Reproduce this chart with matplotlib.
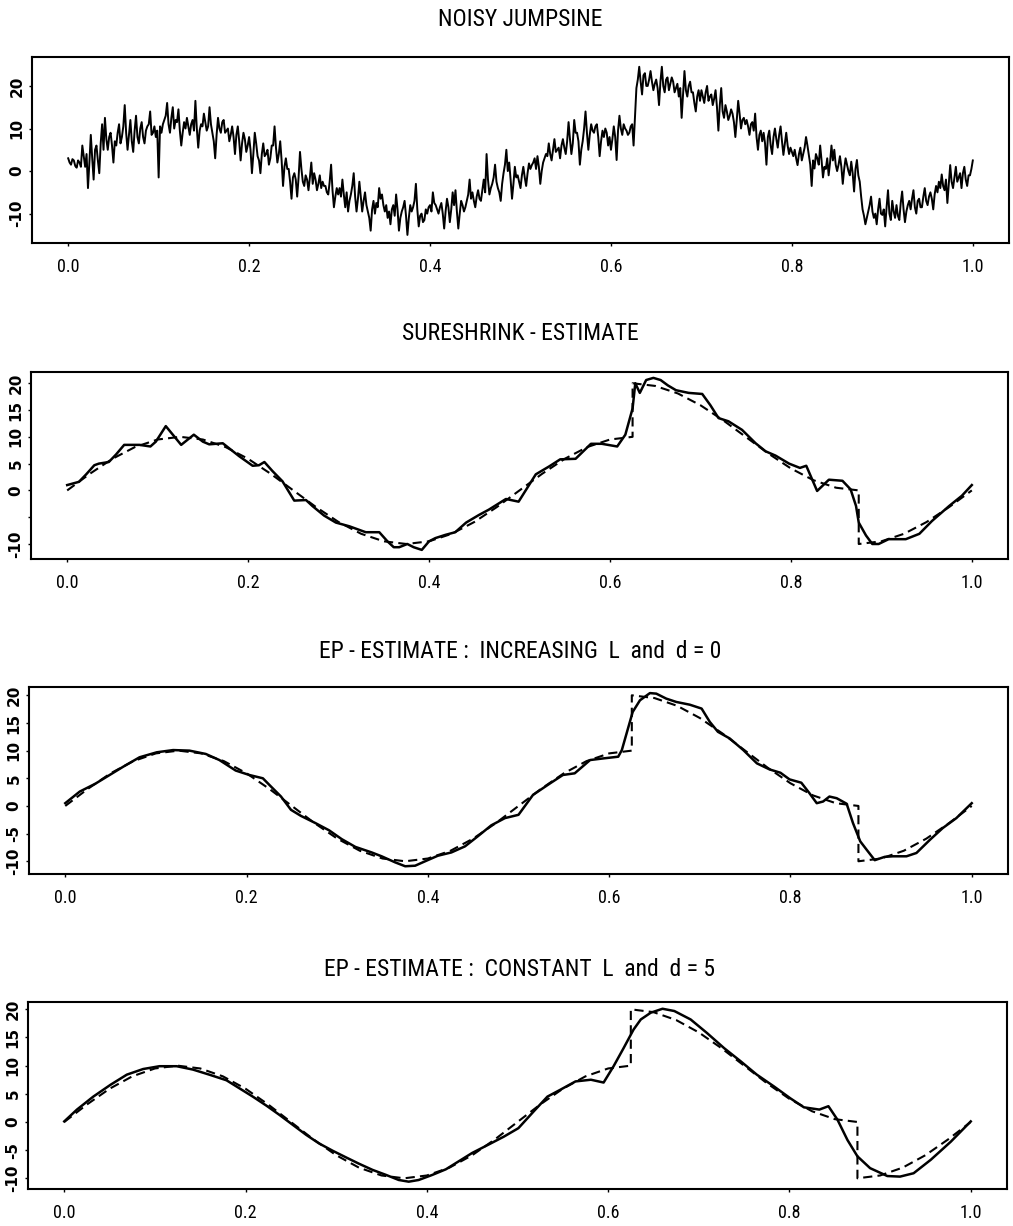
import numpy as np
import matplotlib.pyplot as plt

# ------------------------------------------------------------------
# datos
# ------------------------------------------------------------------

# funcion verdadera (linea discontinua), con los dos saltos
t_true = [0.0, 0.025, 0.05, 0.075, 0.1, 0.125, 0.15, 0.175, 0.2, 0.225,
          0.25, 0.275, 0.3, 0.325, 0.35, 0.375, 0.4, 0.425, 0.45, 0.475,
          0.5, 0.525, 0.55, 0.575, 0.6, 0.625, 0.625, 0.65, 0.675, 0.7,
          0.725, 0.75, 0.775, 0.8, 0.825, 0.85, 0.875, 0.875, 0.9, 0.925,
          0.95, 0.975, 1.0]
y_true = [0.0, 3.1, 5.9, 8.1, 9.5, 10.0, 9.5, 8.1, 5.9, 3.1,
          0.0, -3.1, -5.9, -8.1, -9.5, -10.0, -9.5, -8.1, -5.9, -3.1,
          0.0, 3.1, 5.9, 8.1, 9.5, 10.0, 20.0, 19.5, 18.1, 15.9,
          13.1, 10.0, 6.9, 4.1, 1.9, 0.5, 0.0, -10.0, -9.5, -8.1,
          -5.9, -3.1, 0.0]

# serie ruidosa: muestras en k/320 (aprox.)
noisy_y = [
    3.0, 1.5, 2.5, 0.8, 2.0, 6.0, 1.0, -4.0, 8.5, -2.0, 6.0, -0.5, 11.0, 12.5, 5.0, 9.0,
    2.0, 6.0, 11.0, 8.0, 15.5, 5.0, 12.0, 4.5, 13.0, 6.5, 11.5, 6.5, 10.5, 14.0, 9.0, 8.0,
    -1.5, 9.0, 12.0, 16.0, 9.0, 15.0, 12.0, 14.5, 6.0, 11.5, 12.5, 8.5, 12.0, 16.5, 5.5, 11.0,
    13.5, 9.5, 15.0, 9.0, 3.0, 12.5, 9.0, 12.0, 9.5, 7.0, 10.5, 4.0, 10.5, 2.5, 9.0, 4.5,
    8.0, -0.5, 9.0, 3.5, -0.5, 6.5, 4.0, 1.5, 6.0, 10.5, 2.0, 7.0, -3.5, 3.0, 0.5, -6.5,
    -0.5, -6.0, 4.5, -2.5, -1.0, -4.5, 2.0, -0.5, -4.5, -1.0, -2.5, -3.5, -5.5, 1.5, -8.5, -4.0,
    -4.0, -2.0, -8.5, -9.5, -5.5, -0.5, -9.5, -2.5, -9.5, -5.0, -9.5, -14.0, -7.0, -7.5, -4.0, -5.5,
    -9.5, -11.0, -12.5, -8.0, -5.5, -14.0, -9.5, -7.0, -15.0, -8.0, -8.5, -3.0, -13.0, -10.0, -11.5, -10.0,
    -8.0, -5.0, -8.0, -10.0, -7.5, -13.5, -6.5, -12.0, -5.0, -4.5, -13.5, -7.0, -9.5, -7.0, -2.0, -5.0,
    -8.5, -4.5, -7.0, -2.0, 4.0, -5.5, -3.0, 1.5, -4.0, -7.0, -0.5, 5.0, 2.0, -6.5, 1.0, -1.0,
    -4.0, 1.0, -3.5, 1.8, 1.4, 3.0, 3.5, -3.0, 2.0, 4.0, 6.5, 2.5, 7.5, 5.0, 3.0, 7.5,
    4.0, 11.5, 4.0, 12.0, 9.0, 1.5, 7.0, 14.0, 5.0, 11.0, 9.0, 11.0, 3.5, 9.5, 10.0, 6.0,
    5.0, 10.5, 2.6, 13.0, 8.5, 10.0, 8.5, 10.5, 6.0, 19.5, 24.5, 18.0, 23.0, 20.0, 23.5, 19.0,
    21.5, 15.5, 24.5, 18.5, 22.0, 20.5, 21.0, 19.5, 17.5, 12.5, 23.5, 17.5, 21.0, 18.5, 14.0, 19.0,
    19.0, 16.0, 20.0, 17.5, 15.5, 19.0, 9.5, 19.5, 12.5, 14.0, 13.0, 13.5, 8.0, 16.5, 10.0, 12.5,
    12.0, 8.5, 11.5, 13.5, 5.0, 9.5, 9.0, 1.5, 9.5, 4.0, 10.0, 5.5, 10.5, 3.8, 9.0, 4.0,
    4.5, 5.0, 1.4, 5.5, 4.0, 8.0, 3.8, -3.5, 0.6, 3.0, 6.0, -1.5, 0.5, -1.0, 6.0, 5.0,
    0.0, 3.5, -3.0, 3.0, 0.0, 2.2, -4.8, 2.6, -2.5, -9.0, -12.5, -9.5, -6.0, -11.0, -12.5, -6.5,
    -10.3, -13.0, -4.5, -11.5, -9.5, -8.0, -11.5, -4.8, -12.0, -8.0, -9.0, -4.5, -10.0, -6.5, -8.5, -4.0,
    -8.0, -5.0, -9.0, -3.5, -2.5, -0.8, -4.5, -7.5, 1.4, -4.0, 1.0, -1.5, -4.0, 1.0, -3.5, -1.0, 2.5,
]
# muestras intermedias en (k + 0.5)/320, estimadas de la banda
noisy_mid = [
    2.0, 2.8, 1.2, 2.5, 1.0, 3.5, 4.0, 2.0, 3.0, 5.0, 2.5, 6.5, 5.0, 7.5, 8.0, 6.0,
    7.0, 9.0, 6.5, 10.5, 9.0, 8.5, 7.0, 9.5, 8.0, 10.0, 8.0, 9.5, 11.0, 8.5, 10.5, 9.5,
    10.5, 11.0, 13.0, 11.0, 12.5, 10.0, 11.5, 9.5, 9.0, 10.0, 10.5, 11.0, 9.5, 10.0, 9.5, 10.5,
    11.5, 10.5, 11.0, 7.0, 8.5, 10.0, 11.5, 9.0, 10.0, 8.5, 8.0, 8.5, 7.0, 6.5, 7.5, 6.0,
    5.0, 4.0, 6.5, 2.5, 4.0, 3.5, 5.0, 3.0, 6.0, 5.5, 4.0, 2.5, 1.0, 0.5, -2.5, -1.5,
    -2.0, -1.5, 0.5, -3.5, -2.0, -1.5, -3.0, -2.0, -3.0, -4.0, -3.5, -5.0, -2.5, -4.5, -6.0, -5.5,
    -6.0, -5.5, -5.0, -7.0, -3.5, -6.0, -6.5, -6.0, -7.0, -8.0, -11.0, -9.0, -10.0, -8.5, -6.5, -8.0,
    -8.0, -9.5, -9.0, -10.5, -9.0, -11.0, -8.5, -10.5, -11.0, -9.5, -7.0, -9.0, -10.5, -12.0, -9.0, -8.5,
    -9.5, -7.5, -9.0, -8.5, -10.0, -9.5, -8.5, -9.0, -8.0, -9.5, -10.0, -8.0, -8.5, -5.5, -6.5, -7.0,
    -6.0, -6.5, -4.5, -5.0, -2.0, -4.0, -1.5, -2.5, -5.0, -3.0, 1.5, 0.0, -2.0, -3.0, -1.5, -2.5,
    -1.0, -1.5, -0.5, 0.5, 2.0, 0.5, 1.0, 0.0, 3.0, 3.5, 4.0, 5.0, 4.5, 5.5, 6.0, 5.5,
    7.0, 7.5, 6.5, 9.0, 7.0, 5.0, 10.0, 9.0, 8.5, 9.5, 10.5, 8.0, 7.0, 8.0, 9.0, 8.0,
    7.5, 8.0, 9.5, 10.0, 11.0, 9.5, 9.0, 11.0, 12.5, 21.5, 21.0, 22.5, 20.0, 21.5, 21.0, 20.5,
    19.5, 21.0, 20.0, 21.5, 19.0, 22.0, 18.5, 20.5, 19.5, 18.0, 19.0, 20.0, 18.5, 16.0, 17.5, 16.5,
    17.5, 18.5, 16.5, 18.0, 17.0, 15.0, 15.5, 14.0, 15.5, 12.0, 14.5, 11.5, 12.0, 13.5, 12.0, 11.0,
    10.5, 11.0, 9.5, 8.0, 8.5, 7.0, 6.5, 8.0, 6.0, 8.0, 7.5, 8.5, 7.0, 6.5, 6.0, 5.5,
    3.5, 3.0, 4.0, 2.5, 5.5, 6.0, 1.5, 2.5, 4.0, 1.5, 2.5, 1.0, 3.0, 2.0, 2.5, 1.5,
    1.5, 1.0, 0.5, 1.5, -1.0, -0.5, 0.5, -1.0, -6.0, -10.5, -11.0, -8.0, -9.5, -10.0, -9.0, -10.0,
    -9.0, -8.5, -10.0, -7.0, -11.0, -10.5, -7.5, -9.0, -9.5, -7.0, -6.5, -8.5, -7.0, -8.5, -6.0, -7.0,
    -6.0, -6.5, -5.5, -5.0, -4.0, -3.5, -2.0, -3.0, -2.5, -1.5, -2.5, -0.5, -0.5, -2.0, -1.0, 0.5,
]

# estimador SureShrink
sure_t = [0.0, 0.013, 0.021, 0.030, 0.035, 0.046, 0.054, 0.063, 0.080, 0.092,
          0.098, 0.109, 0.126, 0.140, 0.150, 0.157, 0.172, 0.190, 0.205, 0.212,
          0.218, 0.227, 0.238, 0.251, 0.264, 0.271, 0.284, 0.297, 0.312, 0.330,
          0.345, 0.354, 0.361, 0.367, 0.376, 0.383, 0.392, 0.400, 0.407, 0.418,
          0.429, 0.441, 0.455, 0.466, 0.485, 0.499, 0.518, 0.533, 0.545, 0.562,
          0.579, 0.591, 0.608, 0.617, 0.625, 0.628, 0.633, 0.640, 0.648,
          0.656, 0.664, 0.673, 0.687, 0.702, 0.711, 0.720, 0.731, 0.746, 0.761,
          0.772, 0.783, 0.798, 0.810, 0.817, 0.829, 0.842, 0.857, 0.866, 0.872,
          0.875, 0.883, 0.890, 0.897, 0.908, 0.927, 0.942, 0.956, 0.975, 0.989,
          1.0]
sure_y = [1.0, 1.6, 3.0, 4.7, 5.0, 5.3, 6.7, 8.5, 8.5, 8.2,
          9.1, 12.0, 8.5, 10.4, 9.1, 8.6, 8.8, 6.4, 4.6, 4.7,
          5.3, 3.6, 1.7, -1.9, -1.8, -2.9, -4.7, -6.0, -6.7, -7.8,
          -7.8, -9.5, -10.6, -10.6, -10.0, -10.6, -11.1, -9.5, -8.9, -8.3,
          -7.8, -6.0, -4.6, -3.6, -1.6, -2.1, 3.0, 4.5, 5.8, 5.9,
          8.7, 8.7, 8.2, 10.4, 15.3, 20.0, 18.2, 20.6, 21.0,
          20.6, 19.6, 18.7, 18.2, 18.0, 15.9, 13.5, 12.9, 11.3, 8.8,
          7.3, 6.5, 5.0, 4.2, 4.6, -0.1, 2.0, 1.8, 0.2, -2.9,
          -6.0, -8.4, -10.0, -10.0, -9.1, -9.1, -8.1, -5.7, -2.9, -1.0,
          1.0]

# estimador EP, L creciente y d = 0
ep1_t = [0.0, 0.016, 0.033, 0.049, 0.064, 0.082, 0.101, 0.119, 0.137, 0.155,
         0.170, 0.188, 0.203, 0.218, 0.227, 0.238, 0.249, 0.260, 0.276, 0.291,
         0.305, 0.320, 0.338, 0.349, 0.364, 0.375, 0.386, 0.397, 0.411, 0.426,
         0.441, 0.455, 0.470, 0.485, 0.500, 0.516, 0.535, 0.549, 0.562, 0.579,
         0.594, 0.610, 0.614, 0.626, 0.634, 0.645, 0.652, 0.663, 0.674, 0.689,
         0.702, 0.711, 0.720, 0.733, 0.748, 0.763, 0.777, 0.789, 0.799, 0.812,
         0.821, 0.829, 0.836, 0.843, 0.851, 0.862, 0.869, 0.877, 0.884, 0.893,
         0.904, 0.913, 0.928, 0.939, 0.954, 0.968, 0.983, 1.0]
ep1_y = [0.5, 2.6, 4.0, 5.6, 7.1, 8.8, 9.7, 10.1, 10.0, 9.4,
         8.3, 6.4, 5.6, 5.0, 3.5, 1.7, -0.7, -1.8, -3.1, -4.4,
         -6.0, -7.4, -8.4, -9.1, -10.2, -10.9, -10.8, -10.0, -9.0, -8.4,
         -7.3, -5.5, -3.5, -2.2, -1.6, 2.0, 4.1, 5.6, 5.9, 8.3,
         8.6, 8.9, 10.1, 17.0, 19.1, 20.4, 20.3, 19.4, 18.8, 18.3,
         17.6, 15.2, 13.4, 12.2, 10.1, 7.7, 6.6, 6.0, 4.8, 4.2,
         2.3, 0.5, 0.8, 1.7, 1.4, 0.4, -3.1, -6.4, -7.9, -9.8,
         -9.2, -9.1, -9.1, -8.5, -6.1, -4.0, -2.2, 0.5]

# estimador EP, L constante y d = 5
ep2_t = [0.0, 0.014, 0.032, 0.051, 0.069, 0.087, 0.105, 0.124, 0.142, 0.160,
         0.179, 0.193, 0.208, 0.223, 0.237, 0.252, 0.267, 0.281, 0.296, 0.311,
         0.325, 0.340, 0.355, 0.369, 0.380, 0.391, 0.406, 0.421, 0.435, 0.450,
         0.467, 0.485, 0.501, 0.518, 0.533, 0.547, 0.564, 0.581, 0.595, 0.606,
         0.617, 0.628, 0.636, 0.647, 0.660, 0.673, 0.691, 0.709, 0.728, 0.746,
         0.764, 0.783, 0.801, 0.816, 0.833, 0.843, 0.853, 0.864, 0.875, 0.889,
         0.908, 0.922, 0.937, 0.956, 0.978, 1.0]
ep2_y = [0.1, 2.2, 4.5, 6.6, 8.4, 9.4, 9.9, 9.9, 9.3, 8.4,
         7.4, 6.0, 4.5, 2.9, 1.3, -0.5, -2.3, -3.8, -5.1, -6.3,
         -7.4, -8.5, -9.4, -10.3, -10.6, -10.3, -9.4, -8.4, -7.0, -5.5,
         -4.1, -2.6, -1.1, 1.9, 4.5, 5.7, 7.2, 7.5, 7.0, 9.9,
         13.1, 16.4, 18.2, 19.4, 20.1, 19.7, 18.2, 15.8, 13.1, 10.8,
         8.4, 6.3, 4.2, 2.6, 2.2, 2.8, 0.4, -3.2, -6.1, -8.2,
         -9.6, -9.7, -9.1, -6.7, -3.5, 0.1]

titulos = ['NOISY JUMPSINE',
           'SURESHRINK - ESTIMATE',
           'EP - ESTIMATE :  INCREASING  L  and  d = 0',
           'EP - ESTIMATE :  CONSTANT  L  and  d = 5']

x_ticks = [0.0, 0.2, 0.4, 0.6, 0.8, 1.0]
x_ticklabels = ['0.0', '0.2', '0.4', '0.6', '0.8', '1.0']
y_ticks_1 = [-10, 0, 10, 20]
y_ticks_2 = [-10, -5, 0, 5, 10, 15, 20]
y_ticklabels_2 = ['-10', '', '0', '5', '10', '15', '20']
y_ticklabels_3 = ['-10', '-5', '0', '5', '10', '15', '20']

# ------------------------------------------------------------------
# figura
# ------------------------------------------------------------------
W, H = 1013, 1226
fig = plt.figure(figsize=(W / 100, H / 100), dpi=100)
narrow = ['Liberation Sans Narrow', 'DejaVu Sans Condensed',
          'Roboto Condensed', 'Liberation Sans']

# (izq, der, arriba, abajo) en pixeles, y limites en y
cajas = [(32, 1009, 57, 243), (31, 1008, 372, 559),
         (29, 1008, 687, 874), (28, 1007, 1002, 1189)]
ylims = [(-16.9, 26.8), (-12.8, 22.1), (-12.3, 21.5), (-11.9, 21.3)]
titulo_y = [20, 333, 652, 970]

ejes = []
for i, (l, r, t, b) in enumerate(cajas):
    ax = fig.add_axes([l / W, 1 - b / H, (r - l) / W, (b - t) / H])
    ax.set_xlim(-0.04, 1.04)
    ax.set_ylim(*ylims[i])
    for s in ax.spines.values():
        s.set_linewidth(1.5)
    ax.set_xticks(x_ticks)
    ax.set_xticklabels(x_ticklabels, family=narrow, fontsize=13)
    ax.tick_params(axis='x', length=2.5, width=1, pad=8)
    ax.tick_params(axis='y', length=2.5, width=1, pad=3, labelrotation=90)
    fig.text(520 / W, 1 - titulo_y[i] / H, titulos[i], family=narrow,
             fontsize=17, ha='center', va='center')
    ejes.append(ax)

# panel 1: datos ruidosos (las dos tandas de muestras intercaladas)
t_a = np.arange(len(noisy_y)) / 320
t_b = (np.arange(len(noisy_mid)) + 0.5) / 320
noisy_t = np.concatenate([t_a, t_b])
orden = np.argsort(noisy_t)
noisy_all = np.concatenate([noisy_y, noisy_mid])[orden]

ax = ejes[0]
ax.plot(noisy_t[orden], noisy_all, color='black', lw=1.4)
ax.set_yticks(y_ticks_1)
ax.set_yticklabels([str(v) for v in y_ticks_1], fontsize=11, fontweight='bold')

# paneles 2-4: estimadores y funcion verdadera
estimados = [(sure_t, sure_y), (ep1_t, ep1_y), (ep2_t, ep2_y)]
for k, (tt, yy) in enumerate(estimados):
    ax = ejes[k + 1]
    ax.plot(t_true, y_true, color='black', lw=1.5, dashes=(4.4, 2.5))
    ax.plot(tt, yy, color='black', lw=1.8)
    ax.set_yticks(y_ticks_2)
    etiquetas = y_ticklabels_2 if k == 0 else y_ticklabels_3
    ax.set_yticklabels(etiquetas, fontsize=11, fontweight='bold')

for ax in ejes:
    for lab in ax.get_yticklabels():
        lab.set_va('center')

fig.savefig('out.png', dpi=100)
